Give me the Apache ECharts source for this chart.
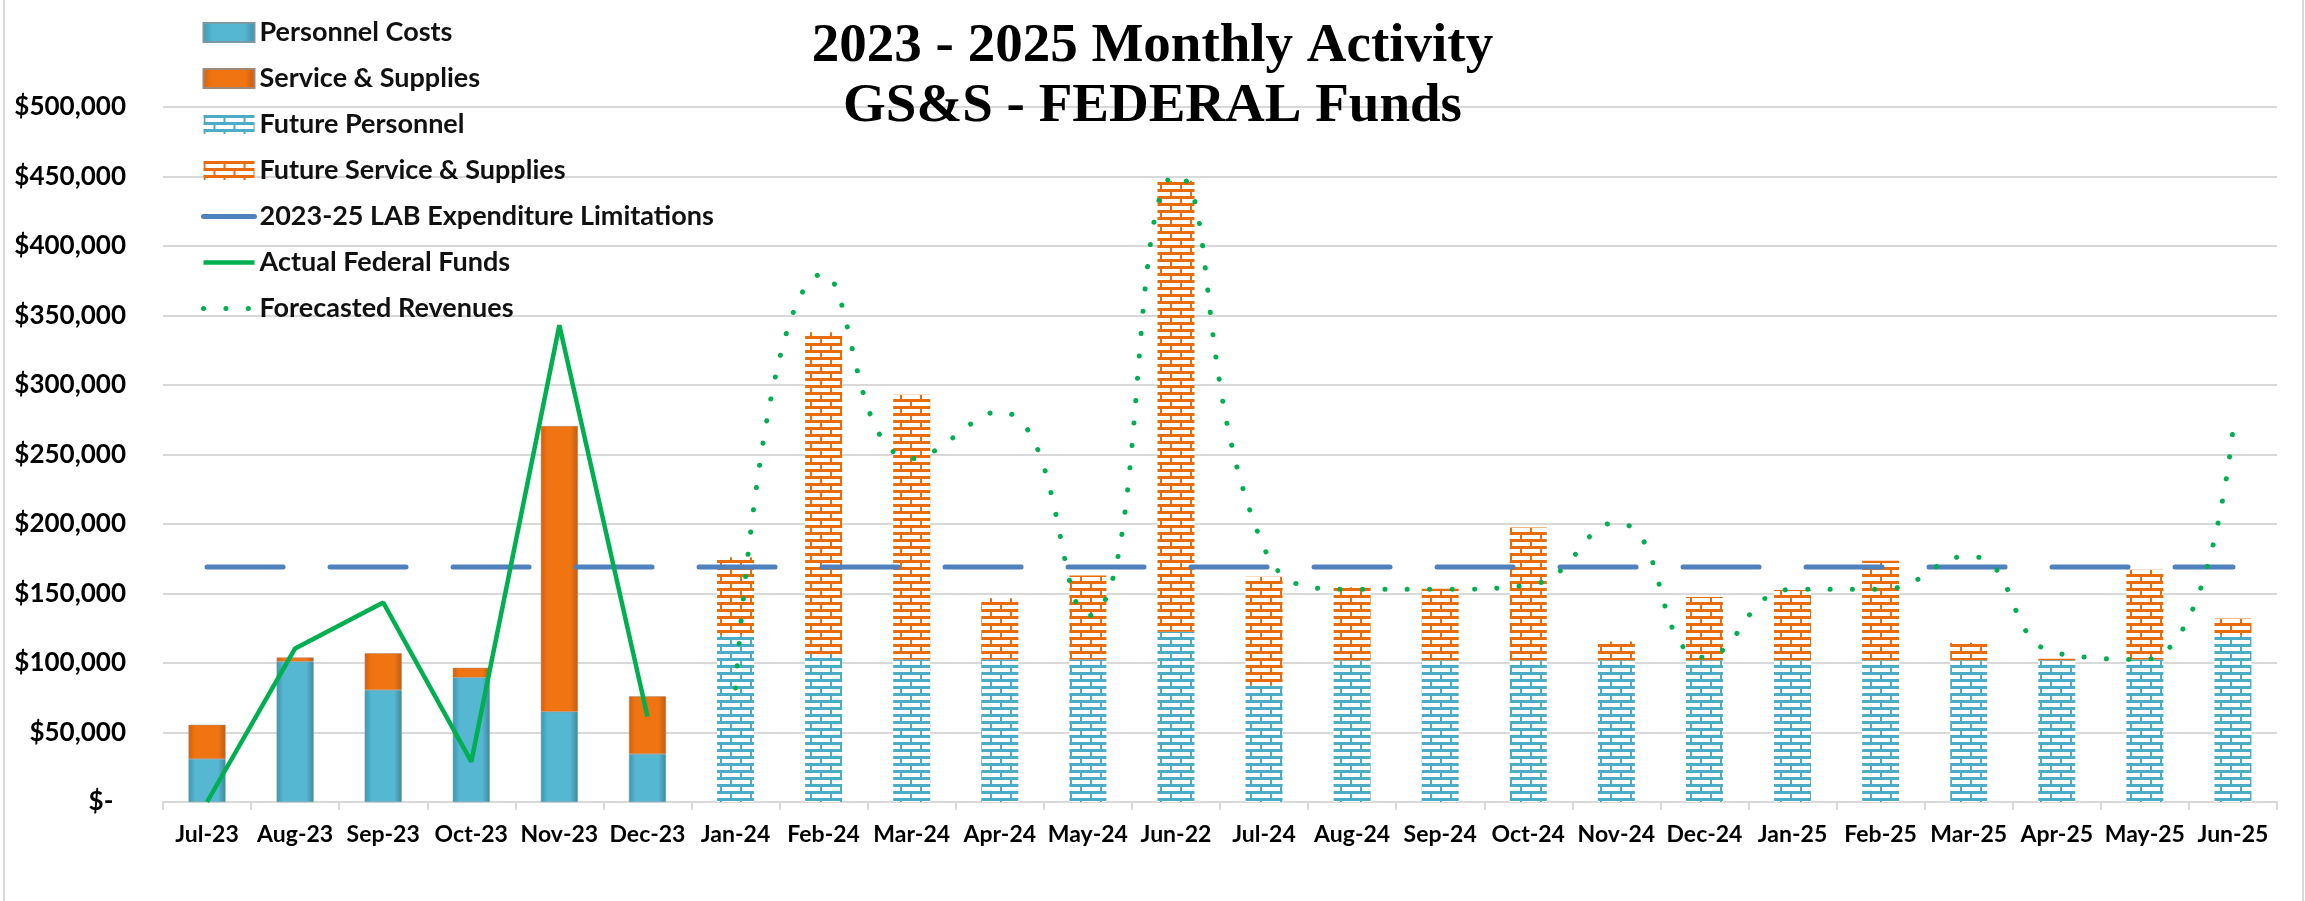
<!DOCTYPE html>
<html>
<head>
<meta charset="utf-8">
<script src="https://cdn.jsdelivr.net/npm/echarts@6/dist/echarts.min.js"></script>
<style>
  html, body { margin: 0; padding: 0; background: #fff; }
  #main { width: 2305px; height: 901px; }
</style>
</head>
<body>
<div id="main"></div>
<script>
// months on the x axis (Jun-22 label is as printed in the source chart)
const months = ['Jul-23', 'Aug-23', 'Sep-23', 'Oct-23', 'Nov-23', 'Dec-23',
  'Jan-24', 'Feb-24', 'Mar-24', 'Apr-24', 'May-24', 'Jun-22',
  'Jul-24', 'Aug-24', 'Sep-24', 'Oct-24', 'Nov-24', 'Dec-24',
  'Jan-25', 'Feb-25', 'Mar-25', 'Apr-25', 'May-25', 'Jun-25']

const personnelCosts = [31000, 101000, 80500, 89500, 65000, 34500,
  null, null, null, null, null, null, null, null, null, null, null, null,
  null, null, null, null, null, null]
const serviceSupplies = [24500, 3000, 26500, 7000, 205500, 41500,
  null, null, null, null, null, null, null, null, null, null, null, null,
  null, null, null, null, null, null]
const futurePersonnel = [null, null, null, null, null, null,
  120000, 106500, 102500, 102500, 102500, 122500,
  84000, 102000, 102000, 102000, 102000, 102000,
  102000, 102000, 102000, 102000, 102500, 120000]
const futureServices = [null, null, null, null, null, null,
  56000, 231500, 190500, 44000, 60500, 324500,
  78000, 52500, 51500, 95500, 13500, 45500,
  50500, 71500, 12500, 1000, 64500, 12000]
const labLimit = [169000, 169000, 169000, 169000, 169000, 169000,
  169000, 169000, 169000, 169000, 169000, 169000,
  169000, 169000, 169000, 169000, 169000, 169000,
  169000, 169000, 169000, 169000, 169000, 169000]
const actualFunds = [0, 110500, 143500, 29000, 343000, 61500,
  null, null, null, null, null, null, null, null, null, null, null, null,
  null, null, null, null, null, null]
const forecastRevenues = [null, null, null, null, null, null,
  82000, 380000, 247000, 281000, 134000, 451000,
  183000, 153000, 153000, 156000, 201000, 104000,
  153000, 153000, 177000, 107000, 102500, 268000]

const yTicks = { min: 0, max: 500000, step: 50000 }

// brick fill like the Excel "horizontal brick" pattern
function brick (color) {
  const c = document.createElement('canvas')
  c.width = 20
  c.height = 14
  const g = c.getContext('2d')
  g.fillStyle = '#fff'
  g.fillRect(0, 0, 20, 14)
  g.fillStyle = color
  g.fillRect(0, 0, 20, 3)
  g.fillRect(0, 7, 20, 3)
  g.fillRect(0, 3, 2, 4)
  g.fillRect(10, 10, 2, 4)
  return c
}

function bevel (edge, mid, dark) {
  return new echarts.graphic.LinearGradient(0, 0, 1, 0, [
    { offset: 0, color: edge },
    { offset: 0.18, color: mid },
    { offset: 0.8, color: mid },
    { offset: 1, color: dark }
  ])
}

const font = 'Lato'
const chart = echarts.init(document.getElementById('main'))

const barWidth = 37
const noSymbol = { opacity: 0 }

const option = {
  backgroundColor: '#fff',
  animation: false,
  title: {
    text: '2023 - 2025 Monthly Activity\nGS&S - FEDERAL Funds',
    left: 'center',
    top: 12,
    textStyle: {
      fontFamily: 'Liberation Serif',
      fontWeight: 'bold',
      fontSize: 55,
      lineHeight: 60,
      color: '#000'
    }
  },
  legend: {
    orient: 'vertical',
    left: 196,
    top: 14,
    itemWidth: 51,
    itemHeight: 19,
    itemGap: 19,
    lineStyle: { width: 'inherit' },
    textStyle: { fontFamily: font, fontWeight: 'bold', fontSize: 27, color: '#111' },
    data: [
      { name: 'Personnel Costs', icon: 'rect' },
      { name: 'Service & Supplies', icon: 'rect' },
      { name: 'Future Personnel', icon: 'rect' },
      { name: 'Future Service & Supplies', icon: 'rect' },
      { name: '2023-25 LAB Expenditure Limitations', itemStyle: noSymbol },
      { name: 'Actual Federal Funds', itemStyle: noSymbol },
      { name: 'Forecasted Revenues', itemStyle: noSymbol }
    ]
  },
  grid: { left: 163, right: 28, top: 107, bottom: 99 },
  xAxis: {
    type: 'category',
    data: months,
    axisLine: { lineStyle: { color: '#d9d9d9', width: 2 } },
    axisTick: { show: true, length: 8, lineStyle: { color: '#d9d9d9', width: 2 } },
    axisLabel: {
      interval: 0,
      margin: 21,
      fontFamily: font,
      fontWeight: 'bold',
      fontSize: 23,
      color: '#000'
    }
  },
  yAxis: {
    type: 'value',
    min: yTicks.min,
    max: yTicks.max,
    interval: yTicks.step,
    axisLine: { show: false },
    axisTick: { show: false },
    splitLine: { lineStyle: { color: '#d9d9d9', width: 2 } },
    axisLabel: {
      margin: 37,
      fontFamily: font,
      fontWeight: 'bold',
      fontSize: 26,
      color: '#000',
      formatter: function (v) {
        if (v === 0) return '$-  '
        return '$' + v.toLocaleString('en-US')
      }
    }
  },
  series: [
    {
      name: 'Personnel Costs',
      type: 'bar',
      stack: 'cost',
      barWidth: barWidth,
      data: personnelCosts,
      itemStyle: { color: bevel('#3f95ad', '#55b7d1', '#3a8aa0'), borderColor: '#7a9aa3', borderWidth: 0.5 }
    },
    {
      name: 'Service & Supplies',
      type: 'bar',
      stack: 'cost',
      barWidth: barWidth,
      data: serviceSupplies,
      itemStyle: { color: bevel('#d2600c', '#f07512', '#c55a0c'), borderColor: '#a0887a', borderWidth: 0.5 }
    },
    {
      name: 'Future Personnel',
      type: 'bar',
      stack: 'cost',
      barWidth: barWidth,
      data: futurePersonnel,
      itemStyle: { color: { image: brick('#4bacc6'), repeat: 'repeat' } }
    },
    {
      name: 'Future Service & Supplies',
      type: 'bar',
      stack: 'cost',
      barWidth: barWidth,
      data: futureServices,
      itemStyle: { color: { image: brick('#e86c0c'), repeat: 'repeat' } }
    },
    {
      name: '2023-25 LAB Expenditure Limitations',
      type: 'line',
      symbol: 'none',
      data: labLimit,
      color: '#4f81bd',
      lineStyle: { color: '#4f81bd', width: 5, type: [76, 47], cap: 'round' },
      z: 5
    },
    {
      name: 'Actual Federal Funds',
      type: 'line',
      symbol: 'none',
      data: actualFunds,
      color: '#00b050',
      lineStyle: { color: '#00b050', width: 4.5 },
      z: 6
    },
    {
      name: 'Forecasted Revenues',
      type: 'line',
      symbol: 'none',
      smooth: 0.5,
      data: forecastRevenues,
      color: '#00b050',
      lineStyle: { color: '#00b050', width: 5, type: [0.1, 22.3], cap: 'round' },
      z: 6
    }
  ],
  graphic: [
    {
      type: 'rect',
      shape: { x: 4, y: -2, width: 2299, height: 905 },
      style: { fill: null, stroke: '#d9d9d9', lineWidth: 2 },
      silent: true
    }
  ]
}

chart.setOption(option)
</script>
</body>
</html>
